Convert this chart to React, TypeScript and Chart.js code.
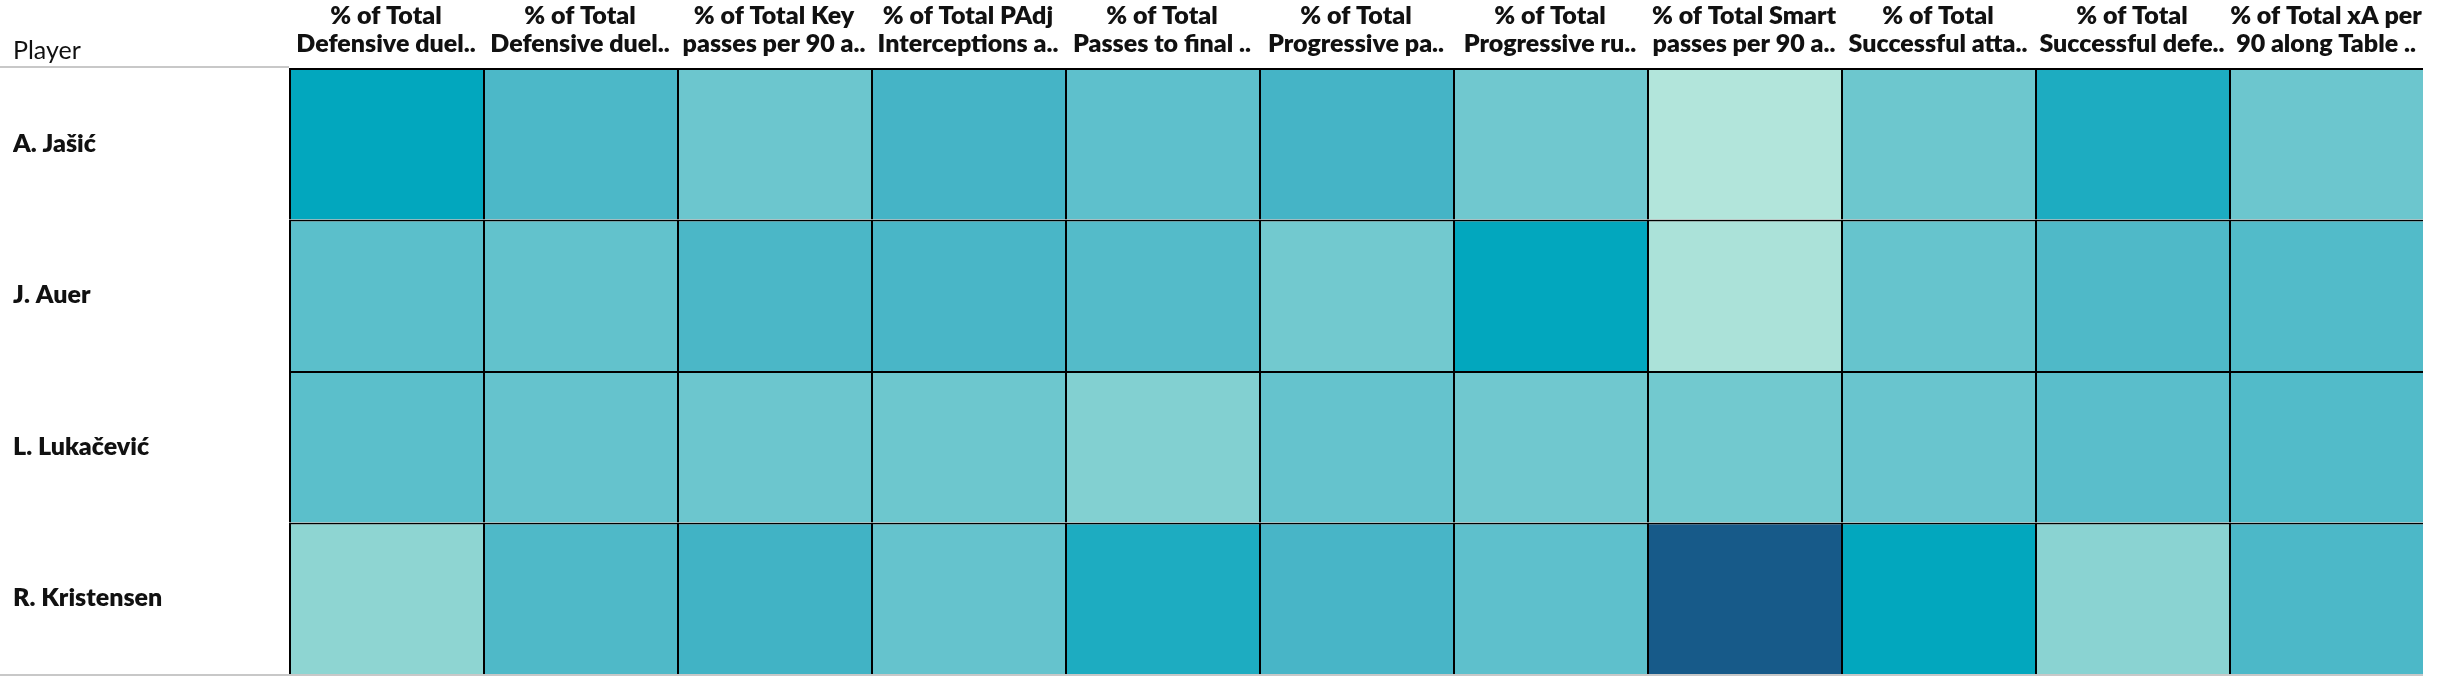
import { useEffect, useRef } from "react";
import { Chart, registerables } from "chart.js";

Chart.register(...registerables);

// ---- data ----
const players = ["A. Jašić", "J. Auer", "L. Lukačević", "R. Kristensen"];

const metricLine1 = [
  "% of Total",
  "% of Total",
  "% of Total Key",
  "% of Total PAdj",
  "% of Total",
  "% of Total",
  "% of Total",
  "% of Total Smart",
  "% of Total",
  "% of Total",
  "% of Total xA per",
];
const metricLine2 = [
  "Defensive duel..",
  "Defensive duel..",
  "passes per 90 a..",
  "Interceptions a..",
  "Passes to final ..",
  "Progressive pa..",
  "Progressive ru..",
  "passes per 90 a..",
  "Successful atta..",
  "Successful defe..",
  "90 along Table ..",
];

// shade intensity of each cell (0 = lightest, 100 = darkest)
const jasicValues = [80, 60, 38, 65, 48, 65, 35, 3, 37, 74, 38];
const auerValues = [50, 45, 61, 62, 55, 34, 80, 6, 42, 58, 56];
const lukacevicValues = [50, 43, 38, 37, 26, 43, 35, 34, 40, 51, 56];
const kristensenValues = [20, 58, 66, 43, 74, 63, 48, 100, 80, 22, 60];

const playerValues = [jasicValues, auerValues, lukacevicValues, kristensenValues];

const colorStops: [number, string][] = [
  [0, "#B8E8DC"],
  [20, "#8ED5D2"],
  [35, "#70C8CF"],
  [50, "#5BBFCB"],
  [65, "#45B4C6"],
  [80, "#02A7BE"],
  [100, "#175A89"],
];

function hexToRgb(h: string) {
  const n = parseInt(h.slice(1), 16);
  return [(n >> 16) & 255, (n >> 8) & 255, n & 255];
}

function colorFor(v: number) {
  for (let i = 0; i < colorStops.length - 1; i++) {
    const [v0, c0] = colorStops[i];
    const [v1, c1] = colorStops[i + 1];
    if (v <= v1 || i === colorStops.length - 2) {
      const t = Math.max(0, Math.min(1, (v - v0) / (v1 - v0)));
      const a = hexToRgb(c0);
      const b = hexToRgb(c1);
      const r = a.map((x, k) => Math.round(x + (b[k] - x) * t));
      return `rgb(${r[0]},${r[1]},${r[2]})`;
    }
  }
  return colorStops[colorStops.length - 1][1];
}

const decorPlugin = {
  id: "tableDecor",
  afterDraw(chart: any) {
    const { ctx, chartArea } = chart;
    ctx.save();
    // gray rules
    ctx.strokeStyle = "#C8C8C8";
    ctx.lineWidth = 2;
    ctx.beginPath();
    ctx.moveTo(0, chartArea.top - 1);
    ctx.lineTo(chartArea.left, chartArea.top - 1);
    ctx.moveTo(0, chartArea.bottom + 1);
    ctx.lineTo(chartArea.right, chartArea.bottom + 1);
    ctx.stroke();
    // row header title
    ctx.fillStyle = "#111";
    ctx.font = "25px Lato";
    ctx.textAlign = "left";
    ctx.textBaseline = "alphabetic";
    ctx.fillText("Player", 13, 59);
    ctx.restore();
  },
};

export default function App() {
  const ref = useRef<HTMLCanvasElement | null>(null);

  useEffect(() => {
    const canvas = ref.current;
    if (!canvas) return;
    const labels = metricLine1.map((l, i) => [l, metricLine2[i]]);
    const datasets = players.map((p, r) => ({
      label: p,
      data: playerValues[r].map(() => [r, r + 1]),
      backgroundColor: playerValues[r].map(colorFor),
      borderColor: "#000",
      borderWidth: { top: 2, left: 2, right: 0, bottom: 0 },
      borderSkipped: false,
      grouped: false,
      barPercentage: 1,
      categoryPercentage: 1,
      inflateAmount: 0,
    }));

    const chart = new Chart(canvas, {
      type: "bar",
      data: { labels, datasets: datasets as any },
      options: {
        animation: false,
        responsive: false,
        devicePixelRatio: 1,
        layout: { padding: { left: 13, right: 28, top: 0, bottom: 14 } },
        plugins: { legend: { display: false }, tooltip: { enabled: false } },
        scales: {
          x: {
            type: "category",
            position: "top",
            offset: true,
            grid: { display: false, drawTicks: false },
            border: { display: false },
            ticks: {
              autoSkip: false,
              maxRotation: 0,
              minRotation: 0,
              padding: 9.5,
              color: "#111",
              font: { family: "Lato", size: 25, weight: 800, lineHeight: 1.14 },
            },
            afterFit: (s: any) => {
              s.height = 68;
            },
          },
          y: {
            type: "linear",
            min: 0,
            max: 4,
            reverse: true,
            display: false,
          },
          yPlayers: {
            type: "category",
            axis: "y",
            position: "left",
            labels: players,
            offset: true,
            grid: { display: false, drawTicks: false },
            border: { display: false },
            ticks: {
              crossAlign: "far",
              padding: 0,
              color: "#111",
              font: { family: "Lato", size: 25, weight: 800 },
            },
            afterFit: (s: any) => {
              s.width = 276;
            },
          },
        },
      } as any,
      plugins: [decorPlugin],
    });
    return () => chart.destroy();
  }, []);

  return (
    <div style={{ position: "fixed", left: 0, top: 0, width: 2451, height: 689, background: "#fff" }}>
      <canvas ref={ref} width={2451} height={689} style={{ display: "block", width: 2451, height: 689 }} />
    </div>
  );
}
